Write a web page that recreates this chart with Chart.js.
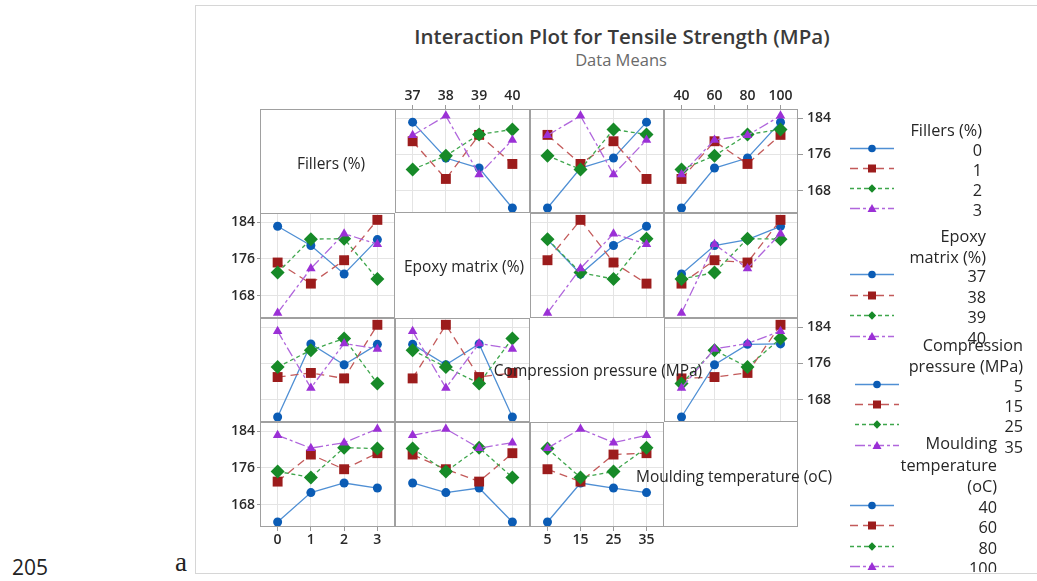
<!DOCTYPE html>
<html>
<head>
<meta charset="utf-8">
<title>Interaction Plot for Tensile Strength</title>
<script src="https://cdn.jsdelivr.net/npm/chart.js@4.4.1/dist/chart.umd.min.js"></script>
<style>
  body { margin: 0; width: 1037px; height: 581px; background: #fff; position: relative; overflow: hidden;
         font-family: "Open Sans", "Noto Sans", sans-serif; color: #333; }
  .abs { position: absolute; white-space: nowrap; }
  .ctr { transform: translate(-50%, -50%); }
  .rgt { transform: translate(-100%, -50%); }
  #frame { position: absolute; left: 195px; top: 5px; width: 900px; height: 567px; border: 1px solid #d6d6d6; }
  #matrix { position: absolute; left: 260px; top: 109px; width: 538px; height: 418px; border: 1px solid #a0a0a0; box-sizing: border-box; }
  #clip { position: absolute; left: 0; top: 0; width: 1037px; height: 572px; overflow: hidden; }
  canvas { position: absolute; }
  .title { font-size: 20.5px; font-weight: 600; color: #3a3a3a; }
  .sub { font-size: 16.5px; color: #6a6a6a; }
  .diag { font-size: 15.5px; color: #262626; }
  .leg { font-size: 16.3px; color: #262626; }
</style>
</head>
<body>
<div id="frame"></div>
<div id="matrix"></div>
<div class="abs ctr title" style="left:622px; top:36px;">Interaction Plot for Tensile Strength (MPa)</div>
<div class="abs ctr sub" style="left:621px; top:59px;">Data Means</div>
<div class="abs" style="left:12px; top:553px; font-size:21px; color:#222;">205</div>
<div class="abs" style="left:175px; top:547px; font-family:'Liberation Serif', serif; font-size:27px; color:#222;">a</div>
<div id="clip"></div>

<script>
// L16 runs: factor settings and measured tensile strength (MPa)
const runFillers  = [0, 0, 0, 0, 1, 1, 1, 1, 2, 2, 2, 2, 3, 3, 3, 3];
const runEpoxy    = [37, 38, 39, 40, 37, 38, 39, 40, 37, 38, 39, 40, 37, 38, 39, 40];
const runPressure = [35, 25, 15, 5, 25, 35, 5, 15, 15, 5, 35, 25, 5, 15, 25, 35];
const runMould    = [100, 80, 60, 40, 60, 40, 100, 80, 40, 60, 80, 100, 80, 100, 40, 60];
const tensile     = [183.1, 175.2, 173.0, 164.2, 178.9, 170.6, 180.3, 173.9,
                     172.7, 175.7, 180.4, 181.5, 180.2, 184.5, 171.6, 179.2];

const fillerLevels   = [0, 1, 2, 3];
const epoxyLevels    = [37, 38, 39, 40];
const pressureLevels = [5, 15, 25, 35];
const mouldLevels    = [40, 60, 80, 100];

const factorNames = ['Fillers (%)', 'Epoxy matrix (%)', 'Compression pressure (MPa)', 'Moulding temperature (oC)'];
const legendTitles = [['Fillers (%)'], ['Epoxy', 'matrix (%)'], ['Compression', 'pressure (MPa)'], ['Moulding', 'temperature', '(oC)']];
const yTicks = [168, 176, 184];

const factorCols = [runFillers, runEpoxy, runPressure, runMould];
const factorLevels = [fillerLevels, epoxyLevels, pressureLevels, mouldLevels];

const colEdges = [260, 395, 530, 664, 798];
const rowEdges = [109, 213, 318, 422, 527];
const yMin = 163.1, yMax = 186;
const M = 36;

const seriesStyles = [
  { line: '#4f8fd4', mark: '#0b5cb5', dash: [],            point: 'circle',   r: 4.5 },
  { line: '#c35a5a', mark: '#9c1c1c', dash: [8, 5],        point: 'rect',     r: 7 },
  { line: '#3ea64c', mark: '#178a28', dash: [4, 3],        point: 'rectRot',  r: 7 },
  { line: '#b066dc', mark: '#9b30d6', dash: [10, 3, 3, 3], point: 'triangle', r: 5.5 }
];

function cellMean(colA, valA, colB, valB) {
  let sum = 0, n = 0;
  for (let i = 0; i < tensile.length; i++) {
    if (colA[i] === valA && colB[i] === valB) { sum += tensile[i]; n++; }
  }
  return n ? sum / n : null;
}

const clip = document.getElementById('clip');

function addText(text, x, y, cls) {
  const d = document.createElement('div');
  d.className = 'abs ' + cls;
  d.style.left = x + 'px';
  d.style.top = y + 'px';
  d.textContent = text;
  clip.appendChild(d);
}

const panelFrame = {
  id: 'panelFrame',
  afterDraw(chart) {
    const { ctx, chartArea: a } = chart;
    ctx.save();
    ctx.strokeStyle = '#a0a0a0';
    ctx.lineWidth = 1;
    ctx.strokeRect(a.left + 0.5, a.top + 0.5, a.right - a.left - 1, a.bottom - a.top - 1);
    ctx.restore();
  }
};

function zeroPad(s) { s.paddingTop = s.paddingBottom = s.paddingLeft = s.paddingRight = 0; }

function drawPanel(r, c) {
  const x0 = colEdges[c], x1 = colEdges[c + 1], y0 = rowEdges[r], y1 = rowEdges[r + 1];
  const cv = document.createElement('canvas');
  cv.width = x1 - x0 + 2 * M;
  cv.height = y1 - y0 + 2 * M;
  cv.style.left = (x0 - M) + 'px';
  cv.style.top = (y0 - M) + 'px';
  clip.appendChild(cv);

  const xTop = r === 0;
  const yRight = c === 3;
  const showX = (r === 0 && (c === 1 || c === 3)) || (r === 3 && (c === 0 || c === 2));
  const showY = (c === 0 && (r === 1 || r === 3)) || (c === 3 && (r === 0 || r === 2));

  const datasets = factorLevels[r].map((lv, li) => {
    const st = seriesStyles[li];
    return {
      data: factorLevels[c].map((xv, j) => ({ x: j, y: cellMean(factorCols[r], lv, factorCols[c], xv) })),
      borderColor: st.line,
      borderWidth: 1.3,
      borderDash: st.dash,
      pointStyle: st.point,
      pointRadius: st.r,
      pointBackgroundColor: st.mark,
      pointBorderColor: st.mark,
      pointBorderWidth: 0,
      tension: 0,
      clip: false,
      order: 3 - li
    };
  });

  new Chart(cv.getContext('2d'), {
    type: 'line',
    data: { datasets },
    plugins: [panelFrame],
    options: {
      responsive: false,
      animation: false,
      events: [],
      layout: { padding: { left: yRight ? M : 0, right: yRight ? 0 : M, top: xTop ? 0 : M, bottom: xTop ? M : 0 } },
      plugins: { legend: { display: false }, tooltip: { enabled: false } },
      scales: {
        x: {
          type: 'linear', position: xTop ? 'top' : 'bottom',
          min: -0.53, max: 3.53,
          afterBuildTicks: s => { s.ticks = [0, 1, 2, 3].map(v => ({ value: v })); },
          afterFit: s => { s.height = M; zeroPad(s); },
          border: { display: false },
          grid: { color: '#e4e4e4', lineWidth: 1, drawTicks: showX, tickLength: 4, tickColor: '#9a9a9a' },
          ticks: { display: showX, autoSkip: false, maxRotation: 0, padding: 1,
                   color: '#2a2a2a', font: { family: 'Open Sans', size: 14, weight: '600' },
                   callback: v => factorLevels[c][v] }
        },
        y: {
          type: 'linear', position: yRight ? 'right' : 'left',
          min: yMin, max: yMax,
          afterBuildTicks: s => { s.ticks = yTicks.map(v => ({ value: v })); },
          afterFit: s => { s.width = M; zeroPad(s); },
          border: { display: false },
          grid: { color: '#e4e4e4', lineWidth: 1, drawTicks: showY, tickLength: yRight ? 5 : 3, tickColor: '#9a9a9a' },
          ticks: { display: showY, padding: yRight ? 4 : 2,
                   color: '#2a2a2a', font: { family: 'Open Sans', size: 14, weight: '600' },
                   callback: v => v }
        }
      }
    }
  });
}

for (let r = 0; r < 4; r++) {
  for (let c = 0; c < 4; c++) {
    if (r !== c) drawPanel(r, c);
  }
}

// factor names on the diagonal
const diagPos = [[331, 163], [464, 266], [598, 370], [734, 476]];
factorNames.forEach((n, i) => addText(n, diagPos[i][0], diagPos[i][1], 'ctr diag'));

// legends, one block per factor
const legendBlocks = [
  { right: 982,  titleY: [130],           itemY: [150, 170, 190, 210], x0: 850, x1: 894 },
  { right: 986,  titleY: [236, 257],      itemY: [276, 297, 317, 338], x0: 850, x1: 894 },
  { right: 1023, titleY: [345, 366],      itemY: [386, 406, 426, 447], x0: 855, x1: 899 },
  { right: 997,  titleY: [443, 465, 486], itemY: [507, 527, 548, 568], x0: 850, x1: 894 }
];

const lg = document.createElement('canvas');
lg.width = 120; lg.height = 581;
lg.style.left = '830px'; lg.style.top = '0px';
clip.appendChild(lg);
const lctx = lg.getContext('2d');

function legendMarker(ctx, style, x, y) {
  ctx.fillStyle = style.mark;
  ctx.beginPath();
  if (style.point === 'circle') {
    ctx.arc(x, y, 3.8, 0, Math.PI * 2);
  } else if (style.point === 'rect') {
    ctx.rect(x - 4, y - 4, 8, 8);
  } else if (style.point === 'rectRot') {
    ctx.moveTo(x, y - 4.2); ctx.lineTo(x + 4.2, y); ctx.lineTo(x, y + 4.2); ctx.lineTo(x - 4.2, y);
  } else {
    ctx.moveTo(x, y - 4.5); ctx.lineTo(x + 4.5, y + 3.5); ctx.lineTo(x - 4.5, y + 3.5);
  }
  ctx.closePath();
  ctx.fill();
}

legendBlocks.forEach((b, gi) => {
  legendTitles[gi].forEach((t, k) => addText(t, b.right, b.titleY[k], 'rgt leg'));
  factorLevels[gi].forEach((lv, li) => {
    const y = b.itemY[li] - 1.5;
    const st = seriesStyles[li];
    lctx.save();
    lctx.strokeStyle = st.line;
    lctx.lineWidth = 1.4;
    lctx.setLineDash(st.dash);
    lctx.beginPath();
    lctx.moveTo(b.x0 - 830, y);
    lctx.lineTo(b.x1 - 830, y);
    lctx.stroke();
    lctx.restore();
    legendMarker(lctx, st, (b.x0 + b.x1) / 2 - 830, y);
    addText(String(lv), b.right, b.itemY[li], 'rgt leg');
  });
});
</script>
</body>
</html>
